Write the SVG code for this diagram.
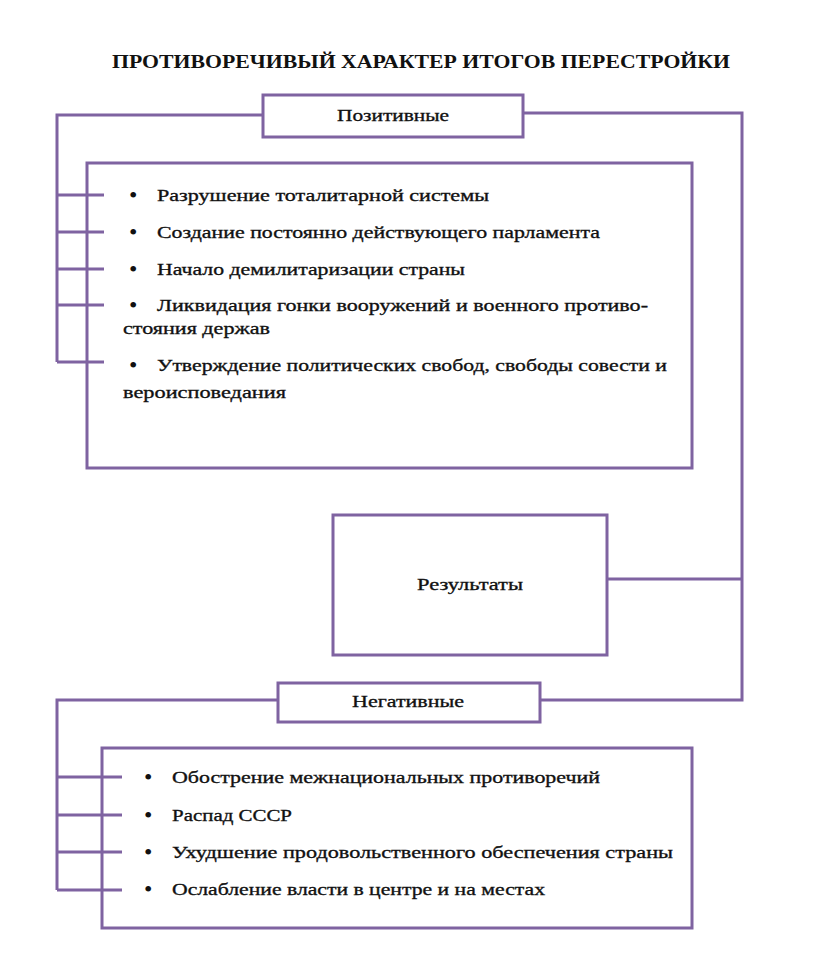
<svg xmlns="http://www.w3.org/2000/svg" width="816" height="973" viewBox="0 0 816 973">
<style>
.box{fill:#fff;stroke:#7f63a1;stroke-width:3}
.ln{fill:none;stroke:#7f63a1;stroke-width:3}
.t{font-family:"Liberation Serif","Times New Roman",serif;font-size:17.5px;fill:#111;stroke:#111;stroke-width:0.35}
.b{font-family:"Liberation Serif","Times New Roman",serif;font-size:24px;fill:#111}
.c{text-anchor:middle}
.ttl{font-family:"Liberation Serif","Times New Roman",serif;font-size:19px;font-weight:bold;fill:#111;text-anchor:middle}
</style>
<rect width="816" height="973" fill="#fff"/>
<text class="ttl" x="421" y="68" textLength="618" lengthAdjust="spacingAndGlyphs">ПРОТИВОРЕЧИВЫЙ ХАРАКТЕР ИТОГОВ ПЕРЕСТРОЙКИ</text>
<g id="positive">
<rect class="box" x="263" y="95" width="260" height="42"/>
<text class="t c" x="393" y="121" textLength="112" lengthAdjust="spacingAndGlyphs">Позитивные</text>
</g>
<g id="positive-list">
<rect class="box" x="87" y="163" width="605" height="305"/>
<text class="b" x="129" y="203">•</text>
<text class="t" x="157" y="201" textLength="332" lengthAdjust="spacingAndGlyphs">Разрушение тоталитарной системы</text>
<text class="b" x="129" y="240">•</text>
<text class="t" x="157" y="238" textLength="443" lengthAdjust="spacingAndGlyphs">Создание постоянно действующего парламента</text>
<text class="b" x="129" y="277">•</text>
<text class="t" x="157" y="275" textLength="308" lengthAdjust="spacingAndGlyphs">Начало демилитаризации страны</text>
<text class="b" x="129" y="313">•</text>
<text class="t" x="157" y="311" textLength="491" lengthAdjust="spacingAndGlyphs">Ликвидация гонки вооружений и военного противо-</text>
<text class="t" x="123" y="334" textLength="147" lengthAdjust="spacingAndGlyphs">стояния держав</text>
<text class="b" x="129" y="373">•</text>
<text class="t" x="157" y="371" textLength="510" lengthAdjust="spacingAndGlyphs">Утверждение политических свобод, свободы совести и</text>
<text class="t" x="123" y="398" textLength="163" lengthAdjust="spacingAndGlyphs">вероисповедания</text>
</g>
<g id="results">
<rect class="box" x="333" y="515" width="274" height="140"/>
<text class="t c" x="470" y="590" textLength="106" lengthAdjust="spacingAndGlyphs">Результаты</text>
</g>
<g id="negative">
<rect class="box" x="278" y="683" width="262" height="39"/>
<text class="t c" x="408" y="707" textLength="112" lengthAdjust="spacingAndGlyphs">Негативные</text>
</g>
<g id="negative-list">
<rect class="box" x="102" y="748" width="590" height="180"/>
<text class="b" x="144" y="785">•</text>
<text class="t" x="172" y="783" textLength="428" lengthAdjust="spacingAndGlyphs">Обострение межнациональных противоречий</text>
<text class="b" x="144" y="823">•</text>
<text class="t" x="172" y="821" textLength="120" lengthAdjust="spacingAndGlyphs">Распад СССР</text>
<text class="b" x="144" y="860">•</text>
<text class="t" x="172" y="858" textLength="501" lengthAdjust="spacingAndGlyphs">Ухудшение продовольственного обеспечения страны</text>
<text class="b" x="144" y="897">•</text>
<text class="t" x="172" y="895" textLength="373" lengthAdjust="spacingAndGlyphs">Ослабление власти в центре и на местах</text>
</g>
<g id="connectors">
<polyline class="ln" points="263,115 57,115 57,362"/>
<line class="ln" x1="57" y1="195" x2="104" y2="195"/>
<line class="ln" x1="57" y1="232" x2="104" y2="232"/>
<line class="ln" x1="57" y1="269" x2="104" y2="269"/>
<line class="ln" x1="57" y1="305" x2="104" y2="305"/>
<line class="ln" x1="57" y1="362" x2="104" y2="362"/>
<polyline class="ln" points="523,113 742,113 742,700 540,700"/>
<line class="ln" x1="607" y1="579" x2="742" y2="579"/>
<polyline class="ln" points="278,700 57,700 57,890"/>
<line class="ln" x1="57" y1="777" x2="122" y2="777"/>
<line class="ln" x1="57" y1="815" x2="122" y2="815"/>
<line class="ln" x1="57" y1="852" x2="122" y2="852"/>
<line class="ln" x1="57" y1="890" x2="122" y2="890"/>
</g>
</svg>
